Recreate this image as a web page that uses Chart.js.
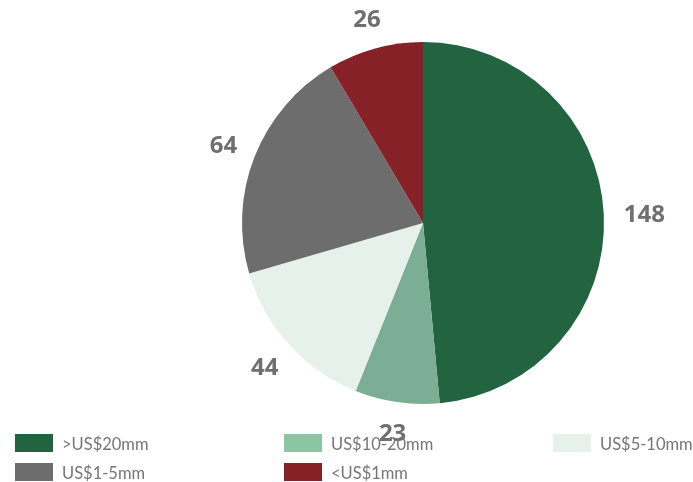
<!DOCTYPE html>
<html>
<head>
<meta charset="utf-8">
<script src="https://cdn.jsdelivr.net/npm/chart.js@4/dist/chart.umd.min.js"></script>
<style>
  html, body { margin: 0; padding: 0; background: #fff; }
  #wrap { position: relative; width: 693px; height: 482px; }
  #legend { position: absolute; left: 0; top: 0; width: 693px; height: 482px; pointer-events: none;
    font-family: Lato, "Open Sans", sans-serif; font-size: 16.5px; color: #767676; }
  .item { position: absolute; height: 18px; line-height: 18px; white-space: nowrap; }
  .sw { position: absolute; left: 0; top: 0; width: 38px; height: 18px; }
  .lbl { position: absolute; left: 47px; top: 1px; }
</style>
</head>
<body>
<div id="wrap">
  <canvas id="pie" width="693" height="482"></canvas>
  <div id="legend"></div>
</div>
<script>
// Chart data
const categories = ['>US$20mm', 'US$10-20mm', 'US$5-10mm', 'US$1-5mm', '<US$1mm'];
const values = [148, 23, 44, 64, 26];
const sliceColors = ['#22643f', '#7bae94', '#e6f1eb', '#6d6d6d', '#862127'];
const legendColors = ['#22643f', '#8bc5a2', '#e6f1eb', '#6d6d6d', '#862127'];

// Legend slots (x of swatch, y of row)
const legendPos = [[15, 434], [284, 434], [553, 434], [15, 463], [284, 463]];

// Build HTML legend
const legendEl = document.getElementById('legend');
categories.forEach((cat, i) => {
  const item = document.createElement('div');
  item.className = 'item';
  item.style.left = legendPos[i][0] + 'px';
  item.style.top = legendPos[i][1] + 'px';
  const sw = document.createElement('div');
  sw.className = 'sw';
  sw.style.background = legendColors[i];
  const lbl = document.createElement('div');
  lbl.className = 'lbl';
  lbl.textContent = cat;
  item.appendChild(sw);
  item.appendChild(lbl);
  legendEl.appendChild(item);
});

// Value labels outside the slices
const outsideLabels = {
  id: 'outsideLabels',
  afterDatasetsDraw(chart) {
    const ctx = chart.ctx;
    const meta = chart.getDatasetMeta(0);
    ctx.save();
    ctx.font = 'bold 24px "Open Sans", Lato, sans-serif';
    ctx.fillStyle = '#6f6f6f';
    ctx.textAlign = 'center';
    ctx.textBaseline = 'middle';
    meta.data.forEach((arc, i) => {
      const p = arc.getProps(['x', 'y', 'startAngle', 'endAngle', 'outerRadius'], true);
      const mid = (p.startAngle + p.endAngle) / 2;
      const text = String(values[i]);
      const w = ctx.measureText(text).width;
      const c = Math.cos(mid), s = Math.sin(mid);
      const r = p.outerRadius + 30 + Math.abs(c) * Math.max(0, w / 2 - 10);
      ctx.fillText(text, p.x + c * r, p.y + s * r + 2);
    });
    ctx.restore();
  }
};

new Chart(document.getElementById('pie'), {
  type: 'pie',
  data: {
    labels: categories,
    datasets: [{
      data: values,
      backgroundColor: sliceColors,
      borderWidth: 0
    }]
  },
  options: {
    responsive: false,
    animation: false,
    layout: { padding: { left: 242, right: 89, top: 42, bottom: 78 } },
    plugins: {
      legend: { display: false },
      tooltip: { enabled: false }
    }
  },
  plugins: [outsideLabels]
});
</script>
</body>
</html>
